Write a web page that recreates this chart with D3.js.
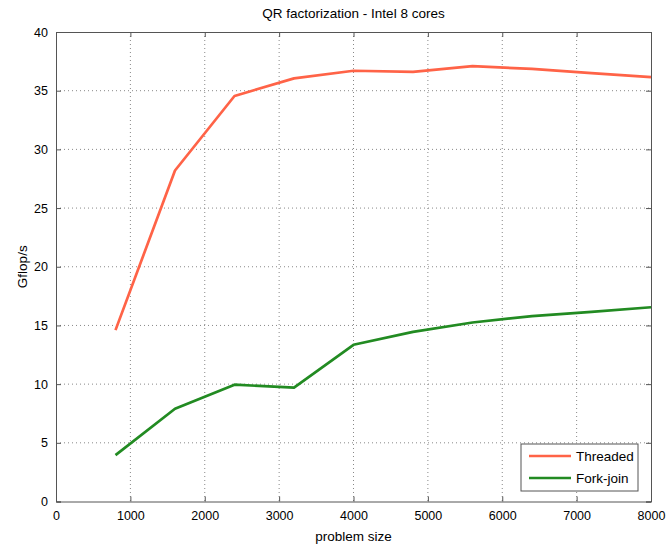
<!DOCTYPE html>
<html>
<head>
<meta charset="utf-8">
<script src="https://cdnjs.cloudflare.com/ajax/libs/d3/7.8.5/d3.min.js"></script>
<style>
body { margin: 0; background: #fff; }
svg { font-family: "Liberation Sans", Arial, sans-serif; }
</style>
</head>
<body>
<div id="chart"></div>
<script>
var sizes = [800, 1600, 2400, 3200, 4000, 4800, 5600, 6400, 7200, 8000];
var threaded = [14.6, 28.2, 34.55, 36.05, 36.7, 36.6, 37.1, 36.85, 36.5, 36.15];
var forkJoin = [3.95, 7.9, 9.95, 9.7, 13.35, 14.45, 15.25, 15.8, 16.15, 16.55];
var xTicks = [0, 1000, 2000, 3000, 4000, 5000, 6000, 7000, 8000];
var yTicks = [0, 5, 10, 15, 20, 25, 30, 35, 40];
var seriesNames = ["Threaded", "Fork-join"];
var colors = ["#ff6347", "#228b22"];

var width = 668, height = 545;
var plotL = 56, plotR = 651, plotT = 32, plotB = 501.5;

var svg = d3.select("#chart").append("svg").attr("width", width).attr("height", height);

var x = d3.scaleLinear().domain([0, 8000]).range([plotL, plotR]);
var y = d3.scaleLinear().domain([0, 40]).range([plotB, plotT]);

// dotted grid
svg.append("g").selectAll("line.gx")
    .data(xTicks.slice(1, -1))
    .enter().append("line")
    .attr("x1", function(d) { return x(d); }).attr("x2", function(d) { return x(d); })
    .attr("y1", plotT).attr("y2", plotB)
    .attr("stroke", "#888").attr("stroke-width", 1).attr("stroke-dasharray", "1,3");
svg.append("g").selectAll("line.gy")
    .data(yTicks.slice(1, -1))
    .enter().append("line")
    .attr("y1", function(d) { return y(d); }).attr("y2", function(d) { return y(d); })
    .attr("x1", plotL).attr("x2", plotR)
    .attr("stroke", "#888").attr("stroke-width", 1).attr("stroke-dasharray", "1,3");

// axes, ticks pointing inward
var xAxis = d3.axisBottom(x).tickValues(xTicks).tickSize(-5).tickPadding(10).tickFormat(d3.format("d"));
var yAxis = d3.axisLeft(y).tickValues(yTicks).tickSize(-5).tickPadding(8).tickFormat(d3.format("d"));

var gx = svg.append("g").attr("transform", "translate(0," + plotB + ")").call(xAxis);
var gy = svg.append("g").attr("transform", "translate(" + plotL + ",0)").call(yAxis);
var gx2 = svg.append("g").attr("transform", "translate(0," + plotT + ")").call(d3.axisTop(x).tickValues(xTicks).tickSize(-5).tickFormat(""));
var gy2 = svg.append("g").attr("transform", "translate(" + plotR + ",0)").call(d3.axisRight(y).tickValues(yTicks).tickSize(-5).tickFormat(""));

[gx, gy, gx2, gy2].forEach(function(g) {
    g.select(".domain").attr("stroke", "#555");
    g.selectAll(".tick line").attr("stroke", "#555");
    g.selectAll("text").attr("font-size", "12.5px").attr("fill", "#000")
        .attr("font-family", "'Liberation Sans', Arial, sans-serif");
});

// lines
var line = d3.line()
    .x(function(d, i) { return x(sizes[i]); })
    .y(function(d) { return y(d); });

[threaded, forkJoin].forEach(function(s, i) {
    svg.append("path")
        .datum(s)
        .attr("d", line)
        .attr("fill", "none")
        .attr("stroke", colors[i])
        .attr("stroke-width", 2.7)
        .attr("stroke-linejoin", "round");
});

// titles
svg.append("text").attr("x", (plotL + plotR) / 2).attr("y", 18)
    .attr("text-anchor", "middle").attr("font-size", "13.5px")
    .text("QR factorization - Intel 8 cores");
svg.append("text").attr("x", (plotL + plotR) / 2).attr("y", 541)
    .attr("text-anchor", "middle").attr("font-size", "13.5px")
    .text("problem size");
svg.append("text")
    .attr("transform", "translate(27," + ((plotT + plotB) / 2) + ") rotate(-90)")
    .attr("text-anchor", "middle").attr("font-size", "13.5px")
    .text("Gflop/s");

// legend
var lg = svg.append("g").attr("transform", "translate(521,444)");
lg.append("rect").attr("width", 117).attr("height", 47)
    .attr("fill", "#fff").attr("stroke", "#555").attr("stroke-width", 1);
seriesNames.forEach(function(n, i) {
    var yy = 12 + i * 22;
    lg.append("line").attr("x1", 8).attr("x2", 50).attr("y1", yy).attr("y2", yy)
        .attr("stroke", colors[i]).attr("stroke-width", 2.7);
    lg.append("text").attr("x", 55).attr("y", yy + 5)
        .attr("font-size", "13.5px").text(n);
});
</script>
</body>
</html>
